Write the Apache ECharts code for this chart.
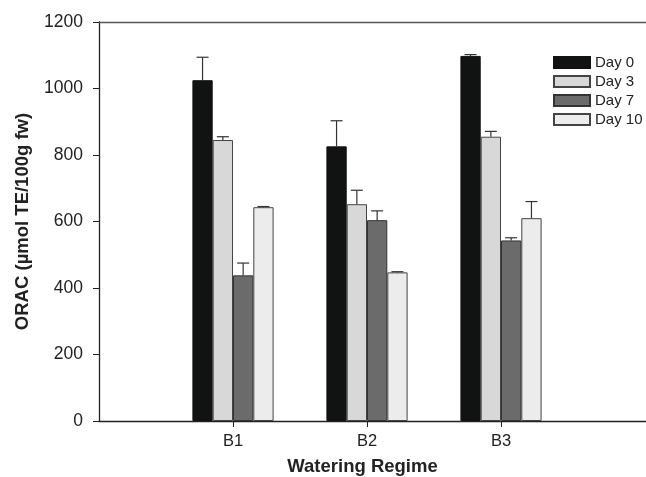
<!DOCTYPE html>
<html>
<head>
<meta charset="utf-8">
<script src="https://cdn.jsdelivr.net/npm/echarts@6/dist/echarts.min.js"></script>
<style>html,body{margin:0;padding:0;background:#fff}#c{width:646px;height:477px}</style>
</head>
<body>
<div id="c"></div>
<script>
const categories = ['B1', 'B2', 'B3'];
const seriesNames = ['Day 0', 'Day 3', 'Day 7', 'Day 10'];
const day0 = [1025, 826, 1098];
const day3 = [845, 652, 855];
const day7 = [438, 604, 543];
const day10 = [643, 447, 610];
const err0 = [69, 77, 4];
const err3 = [10, 42, 16];
const err7 = [37, 28, 8];
const err10 = [2, 2, 50];
const yTicks = [0, 200, 400, 600, 800, 1000, 1200];

const values = [day0, day3, day7, day10];
const errors = [err0, err3, err7, err10];
const colors = ['#111312', '#d8d8d8', '#6b6b6b', '#ececec'];
const borders = ['#111312', '#444', '#333', '#444'];
const BAR_W = 20.3;

const chart = echarts.init(document.getElementById('c'));
const barSeries = seriesNames.map((name, i) => ({
  name: name,
  type: 'bar',
  barWidth: BAR_W,
  barGap: '0%',
  data: values[i].map((v, k) => [k + 1, v]),
  itemStyle: { color: colors[i], borderColor: borders[i], borderWidth: 1 },
  z: 2
}));
const errSeries = seriesNames.map((name, i) => ({
  type: 'custom',
  z: 3,
  silent: true,
  data: values[i].map((v, k) => [k + 1, v, v + errors[i][k]]),
  renderItem: function (params, api) {
    const off = (i - 1.5) * BAR_W;
    const b = api.coord([api.value(0), api.value(1)]);
    const t = api.coord([api.value(0), api.value(2)]);
    const x = b[0] + off;
    const cap = 6;
    const st = { stroke: '#333', lineWidth: 1.2, fill: null };
    return {
      type: 'group',
      children: [
        { type: 'line', shape: { x1: x, y1: b[1], x2: x, y2: t[1] }, style: st },
        { type: 'line', shape: { x1: x - cap, y1: t[1], x2: x + cap, y2: t[1] }, style: st }
      ]
    };
  }
}));

chart.setOption({
  animation: false,
  textStyle: { fontFamily: 'Liberation Sans, Arial, sans-serif' },
  grid: { left: 99, right: 0, top: 22, bottom: 56, outerBoundsMode: 'none', containLabel: false },
  legend: {
    orient: 'vertical',
    left: 548,
    top: 49,
    icon: 'rect',
    itemWidth: 36,
    itemHeight: 11,
    itemGap: 2,
    data: seriesNames,
    textStyle: { fontSize: 15, lineHeight: 17, color: '#222', fontFamily: 'Liberation Sans' }
  },
  xAxis: [{
    type: 'value',
    min: 0,
    max: 4.082,
    interval: 1,
    splitLine: { show: false },
    axisLine: { show: true, lineStyle: { color: '#222', width: 1.3 } },
    axisTick: { show: true, length: 6, lineStyle: { color: '#222' }, customValues: [1, 2, 3] },
    axisLabel: {
      customValues: [1, 2, 3],
      formatter: v => categories[Math.round(v) - 1] || '',
      fontSize: 16.5, color: '#222', margin: 12
    },
    name: 'Watering Regime',
    nameLocation: 'middle',
    nameGap: 36,
    nameTextStyle: { fontSize: 18.5, fontWeight: 'bold', color: '#222', padding: [0, 20, 0, 0] }
  }, {
    type: 'value', position: 'top', min: 0, max: 4.082,
    axisLine: { show: true, lineStyle: { color: '#555', width: 1.3 } },
    axisTick: { show: false }, axisLabel: { show: false }, splitLine: { show: false }
  }],
  yAxis: {
    type: 'value',
    min: 0, max: 1200, interval: 200,
    splitLine: { show: false },
    axisLine: { show: true, lineStyle: { color: '#222', width: 1.3 } },
    axisTick: { show: true, length: 6, lineStyle: { color: '#222' } },
    axisLabel: { fontSize: 17.5, color: '#222', margin: 16, formatter: v => yTicks.includes(v) ? String(v) : '' },
    name: 'ORAC (µmol TE/100g fw)',
    nameLocation: 'middle',
    nameGap: 67,
    nameTextStyle: { fontSize: 18.5, fontWeight: 'bold', color: '#222' }
  },
  series: barSeries.concat(errSeries)
});
</script>
</body>
</html>
